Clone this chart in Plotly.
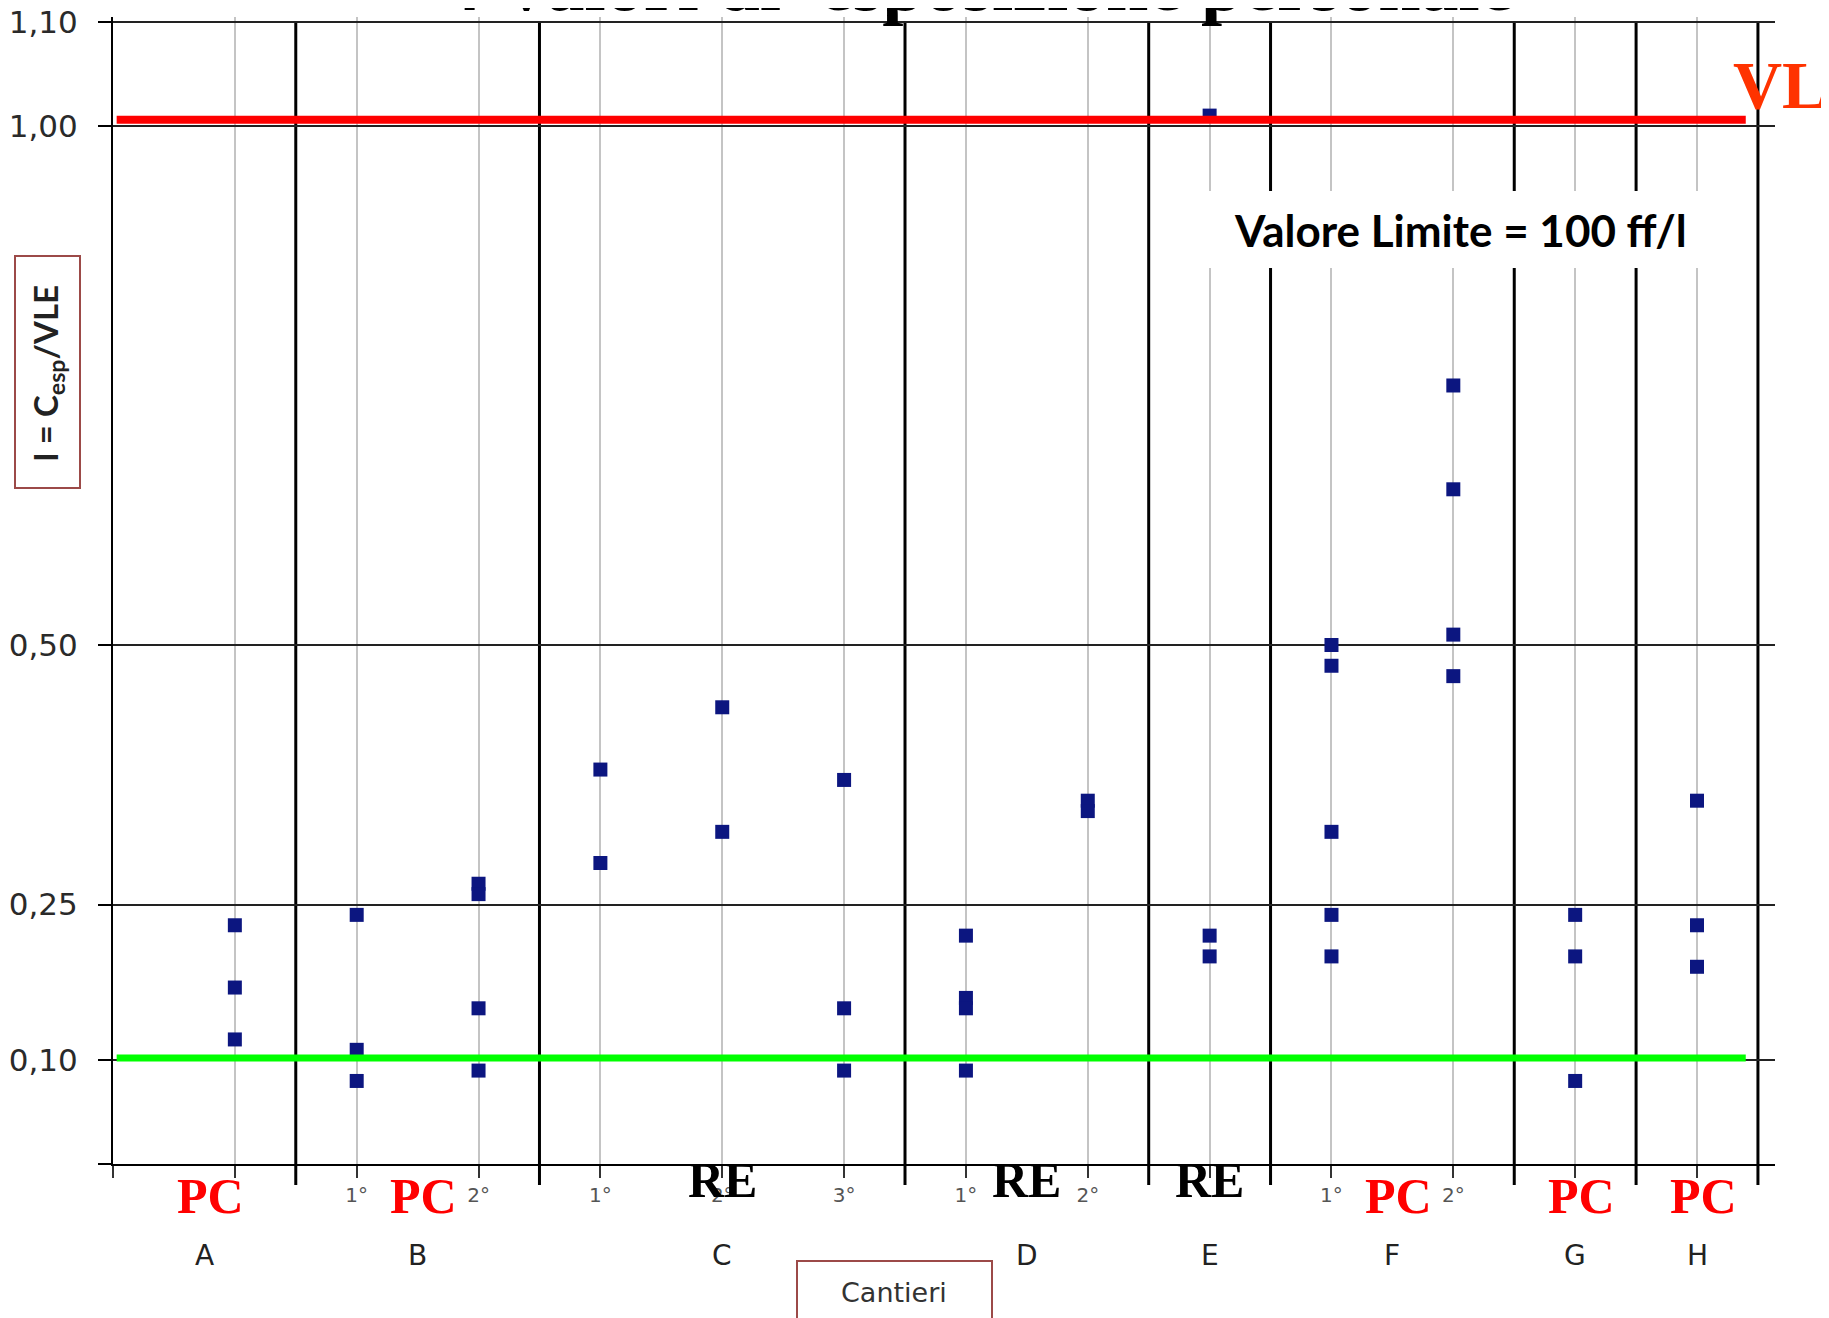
import plotly.graph_objects as go

# ---------------- data ----------------
groups = ["A", "B", "B", "C", "C", "C", "D", "D", "E", "F", "F", "G", "H"]
subs = ["", "1°", "2°", "1°", "2°", "3°", "1°", "2°", "", "1°", "2°", "", ""]
vals_A = [0.23, 0.17, 0.12]
vals_B1 = [0.24, 0.11, 0.08]
vals_B2 = [0.27, 0.26, 0.15, 0.09]
vals_C1 = [0.38, 0.29]
vals_C2 = [0.44, 0.32]
vals_C3 = [0.37, 0.15, 0.09]
vals_D1 = [0.22, 0.16, 0.15, 0.09]
vals_D2 = [0.35, 0.34]
vals_E = [1.01, 0.22, 0.20]
vals_F1 = [0.50, 0.48, 0.32, 0.24, 0.20]
vals_F2 = [0.75, 0.65, 0.51, 0.47]
vals_G = [0.24, 0.20, 0.08]
vals_H = [0.35, 0.23, 0.19]
series = [vals_A, vals_B1, vals_B2, vals_C1, vals_C2, vals_C3, vals_D1, vals_D2,
          vals_E, vals_F1, vals_F2, vals_G, vals_H]
cantieri = ["A", "B", "C", "D", "E", "F", "G", "H"]
tipologia = ["PC", "PC", "RE", "RE", "RE", "PC", "PC", "PC"]
ytick_vals = [0.0, 0.10, 0.25, 0.50, 1.00, 1.10]
ytick_text = ["", "0,10", "0,25", "0,50", "1,00", "1,10"]
VL_level = 1.006      # red line as drawn
soglia_level = 0.102  # green line as drawn

# ---------------- layout geometry (screen pixels) ----------------
W, H = 1829, 1318
OFF = 8                      # page body margin
Y_RANGE = [0, 1.105]
X_RANGE = [-1, 12.64]
PLOT_L, PLOT_R, PLOT_B = 113, 1775, 1164
PX_PER_UNIT = 1038
PLOT_T = PLOT_B - (Y_RANGE[1] - Y_RANGE[0]) * PX_PER_UNIT
PW, PH = PLOT_R - PLOT_L, PLOT_B - PLOT_T
TOP_FRAC = ytick_vals[-1] / Y_RANGE[1]


def py2paper(py):
    return (PLOT_B - py) / PH


def px2paper(px):
    return (px - PLOT_L) / PW


xs, ys = [], []
for i, v in enumerate(series):
    xs += [i] * len(v)
    ys += v

fig = go.Figure()
fig.add_trace(go.Scatter(
    x=xs, y=ys, mode="markers",
    marker=dict(symbol="square", size=14, color="#0c1680", line=dict(width=0)),
    showlegend=False, hoverinfo="y"))

n = len(groups)
seps = [i - 0.5 for i in range(1, n) if groups[i] != groups[i - 1]] + [n - 0.5]
shapes = []
for s in seps:
    shapes.append(dict(type="line", xref="x", yref="paper", x0=s, x1=s,
                       y0=py2paper(1185), y1=TOP_FRAC, line=dict(color="black", width=3),
                       layer="between"))
# white box behind "Valore Limite"
shapes.append(dict(type="rect", xref="paper", yref="paper",
                   x0=px2paper(1207), x1=px2paper(1709), y0=py2paper(268), y1=py2paper(191),
                   line=dict(width=0), fillcolor="white", layer="above"))
# limit line & threshold
shapes.append(dict(type="line", xref="x", yref="y", x0=-0.97, x1=12.4,
                   y0=VL_level, y1=VL_level, line=dict(color="#ff0000", width=8),
                   layer="above"))
shapes.append(dict(type="line", xref="x", yref="y", x0=-0.97, x1=12.4,
                   y0=soglia_level, y1=soglia_level, line=dict(color="#00ff00", width=7),
                   layer="above"))
# y-title box
shapes.append(dict(type="rect", xref="paper", yref="paper",
                   x0=px2paper(15), x1=px2paper(80), y0=py2paper(488), y1=py2paper(256),
                   line=dict(color="#9c4a48", width=2), fillcolor="rgba(0,0,0,0)"))
# Cantieri box
shapes.append(dict(type="rect", xref="paper", yref="paper",
                   x0=px2paper(797), x1=px2paper(992), y0=py2paper(1340), y1=py2paper(1261),
                   line=dict(color="#9c4a48", width=2), fillcolor="white"))

ann = []
ann.append(dict(text="<b>4 Valori di  esposizione personale</b>", xref="paper", yref="paper",
                x=px2paper(978), y=py2paper(-16), xanchor="center", yanchor="middle",
                showarrow=False, font=dict(family="Liberation Serif", size=76, color="black")))
ann.append(dict(text="<b>VL</b>", xref="paper", yref="paper",
                x=px2paper(1780), y=py2paper(85), xanchor="center", yanchor="middle",
                showarrow=False, font=dict(family="Liberation Serif", size=68, color="#ff3300")))
ann.append(dict(text="<b>Valore Limite = 100 ff/l</b>", xref="paper", yref="paper",
                x=px2paper(1460), y=py2paper(230), xanchor="center", yanchor="middle",
                showarrow=False, font=dict(family="Lato", size=44, color="black")))
ann.append(dict(text="I = C<sub>esp</sub>/VLE", xref="paper", yref="paper",
                x=px2paper(48), y=py2paper(374), xanchor="center", yanchor="middle",
                textangle=-90, showarrow=False,
                font=dict(family="Lato", size=33, color="#222", weight="bold")))
ann.append(dict(text="Cantieri", xref="paper", yref="paper",
                x=px2paper(894), y=py2paper(1292), xanchor="center", yanchor="middle",
                showarrow=False, font=dict(family="DejaVu Sans", size=27, color="#333")))

bounds = [-1] + seps
for k, g in enumerate(cantieri):
    cx = (bounds[k] + bounds[k + 1]) / 2
    ann.append(dict(text=g, xref="x", yref="paper", x=cx, y=py2paper(1255),
                    xanchor="center", yanchor="middle", showarrow=False,
                    font=dict(family="DejaVu Sans", size=28, color="#222")))
    t = tipologia[k]
    if t == "PC":
        ann.append(dict(text="<b>PC</b>", xref="x", yref="paper", x=cx + 0.05, y=py2paper(1196),
                        xanchor="center", yanchor="middle", showarrow=False,
                        font=dict(family="Liberation Serif", size=50, color="#ff0000")))
    else:
        ann.append(dict(text="<b>RE</b>", xref="x", yref="paper", x=cx, y=py2paper(1180),
                        xanchor="center", yanchor="middle", showarrow=False,
                        font=dict(family="Liberation Serif", size=50, color="black")))

fig.update_layout(
    width=W, height=H,
    margin=dict(l=PLOT_L - OFF, r=W - (PLOT_R - OFF), t=PLOT_T - OFF, b=H - (PLOT_B - OFF)),
    paper_bgcolor="white", plot_bgcolor="white",
    shapes=shapes, annotations=ann, showlegend=False,
    xaxis=dict(range=X_RANGE, tickmode="array", tickvals=list(range(-1, n)),
               ticktext=[""] + subs, showgrid=True, gridcolor="#c4c4c4", gridwidth=1.5,
               ticks="outside", ticklen=12, tickcolor="#333", tickwidth=1.5,
               tickfont=dict(family="DejaVu Sans", size=20, color="#555"),
               showline=True, linecolor="black", linewidth=2, zeroline=False,
               automargin=False),
    yaxis=dict(range=Y_RANGE, tickmode="array", tickvals=ytick_vals, ticktext=ytick_text,
               showgrid=True, gridcolor="#222", gridwidth=1.5,
               ticks="outside", ticklen=13, tickcolor="black", tickwidth=1.5,
               ticklabelstandoff=14, ticklabeloverflow="allow",
               tickfont=dict(family="DejaVu Sans", size=31, color="#2a2a2a"),
               showline=True, linecolor="black", linewidth=2, zeroline=False,
               automargin=False),
)

fig.write_html("out.html")
